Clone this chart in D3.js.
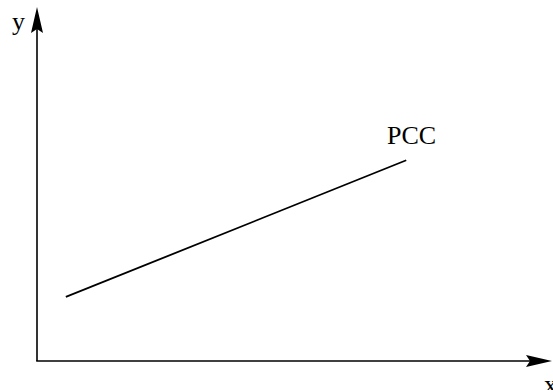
<!DOCTYPE html>
<html><head><meta charset="utf-8">
<script src="https://cdn.jsdelivr.net/npm/d3@7"></script>
<style>html,body{margin:0;padding:0;background:#fff;}svg{display:block;}</style>
</head><body>
<script>
const axisLabels = ["x", "y"];
const seriesName = ["PCC"];
const lineX = [5.6, 71.7];
const lineY = [18.1, 56.7];

const W = 553, H = 390;
const svg = d3.select("body").append("svg").attr("width", W).attr("height", H);
const x = d3.scaleLinear().domain([0, 100]).range([37, 552]);
const y = d3.scaleLinear().domain([0, 100]).range([361, 7]);

function arrowHead(tx, ty, dir) {
  const L = 26, hw = 6, notch = 4;
  let pts;
  if (dir === "up") pts = [[tx, ty], [tx + hw, ty + L], [tx, ty + L - notch], [tx - hw, ty + L]];
  else pts = [[tx, ty], [tx - L, ty - hw], [tx - L + notch, ty], [tx - L, ty + hw]];
  svg.append("path").attr("d", d3.line()(pts) + "Z").attr("fill", "#000");
}

// axes
svg.append("line").attr("x1", x(0)).attr("y1", y(0)).attr("x2", x(0)).attr("y2", y(100) + 10)
  .attr("stroke", "#000").attr("stroke-width", 1.6);
svg.append("line").attr("x1", x(0) - 0.8).attr("y1", y(0)).attr("x2", x(100) - 10).attr("y2", y(0))
  .attr("stroke", "#000").attr("stroke-width", 1.6);
arrowHead(x(0), y(100), "up");
arrowHead(x(100), y(0), "right");

// line
const data = lineX.map((d, i) => [d, lineY[i]]);
svg.append("path").datum(data)
  .attr("d", d3.line().x(d => x(d[0])).y(d => y(d[1])))
  .attr("stroke", "#000").attr("stroke-width", 1.8).attr("fill", "none");

const font = "'Liberation Serif', 'Times New Roman', serif";
svg.append("text").attr("x", 387).attr("y", 144).attr("font-family", font).attr("font-size", 26)
  .text(seriesName[0]);
svg.append("text").attr("x", 12).attr("y", 30).attr("font-family", font).attr("font-size", 26)
  .text(axisLabels[1]);
svg.append("text").attr("x", 544).attr("y", 393).attr("font-family", font).attr("font-size", 26)
  .text(axisLabels[0]);
</script>
</body></html>
